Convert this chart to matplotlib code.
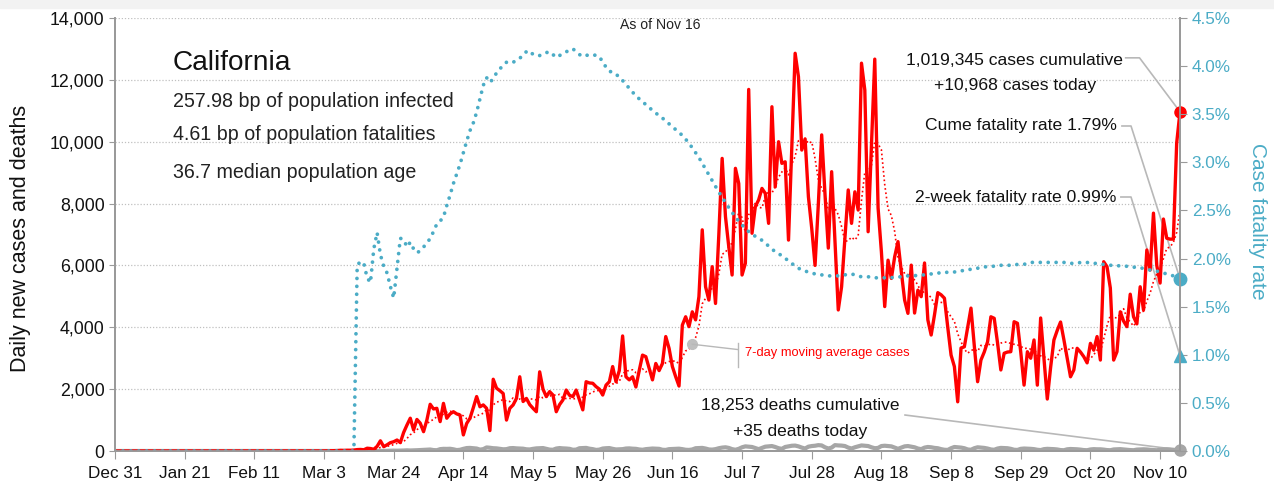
import numpy as np
import pandas as pd
import matplotlib
matplotlib.use('Agg')
import matplotlib.pyplot as plt
import matplotlib.dates as mdates
from matplotlib.ticker import FuncFormatter, MultipleLocator
from matplotlib.patches import Rectangle

plt.rcParams['font.family'] = ['Liberation Sans', 'DejaVu Sans']

#========================= data =========================

start = '2019-12-31'
end = '2020-11-16'

# daily new cases, Dec 31 - Feb 29 are zero
cases_mar = [0, 0, 2, 5, 7, 9, 14, 22, 19, 24, 23, 30, 45, 50, 40, 90, 80, 55, 150, 330,
             140, 200, 270, 300, 355, 270, 600, 840, 1060, 680, 1020]
cases_apr = [900, 625, 1000, 1510, 1360, 1380, 950, 1540, 1060, 1200, 1270, 1200, 1160, 520, 890,
             1060, 1400, 1760, 1430, 1490, 1380, 660, 2320, 2030, 1950, 1860, 1000, 1380, 1490, 1700]
cases_may = [2400, 1600, 1700, 1500, 1380, 1270, 2560, 2000, 1760, 1920, 1810, 1270, 1500, 1650, 1970,
             1800, 1760, 1970, 1650, 1330, 2240, 2200, 2190, 2080, 2000, 1810, 2130, 2240, 2730, 2240, 2600]
cases_jun = [3720, 2400, 2300, 2400, 2070, 2600, 3100, 3050, 2670, 2300, 2830, 2600, 2830, 3700, 3320,
             2730, 2400, 2100, 4070, 4340, 4020, 4500, 4240, 4990, 7150, 5310, 4880, 5960, 4770, 7000]
cases_jul = [9460, 7580, 6600, 5690, 9140, 8650, 5690, 6070, 11690, 7040, 7900, 8120, 8490, 8330, 7360,
             11130, 8540, 10000, 9300, 9350, 6820, 9800, 12860, 12100, 9730, 10090, 8220, 7200, 6000, 8000, 10220]
cases_aug = [8300, 6560, 9030, 6800, 4560, 5310, 6900, 8440, 7360, 8380, 7790, 12540, 11670, 7090, 9900,
             12670, 7860, 6440, 4670, 6170, 5580, 6280, 6770, 5800, 4880, 4450, 6010, 4460, 5200, 4990, 6080]
cases_sep = [4240, 3750, 4400, 5120, 5050, 4940, 4000, 3100, 2730, 1590, 3330, 3370, 4000, 4620, 3400,
             2240, 2940, 3200, 3530, 4340, 4290, 3500, 2620, 3160, 3200, 3210, 4180, 4130, 3200, 2130]
cases_oct = [3210, 3000, 3590, 2130, 4300, 3000, 1680, 2700, 3590, 3900, 4170, 3600, 3000, 2400, 2620,
             3320, 3200, 3050, 2850, 3480, 3260, 3700, 2940, 6120, 5960, 5270, 2940, 3210, 4500, 4200, 4020]
cases_nov = [5070, 4340, 4110, 5310, 4560, 6500, 5850, 7690, 6000, 5430, 7500, 6880, 6850, 6850, 9960, 10968]

# daily new deaths
deaths_mar = [0, 0, 0, 1, 0, 0, 0, 0, 1, 0, 1, 1, 1, 0, 2, 1, 4, 3, 5, 3, 2, 6, 8, 12, 10, 12, 16, 22, 17, 20, 25]
deaths_apr = [30, 35, 40, 48, 30, 25, 60, 70, 68, 72, 55, 30, 40, 70, 95, 100, 90, 80, 45, 60,
              115, 105, 90, 85, 70, 55, 60, 90, 95, 85]
deaths_may = [80, 75, 55, 50, 70, 85, 90, 95, 70, 45, 40, 80, 95, 85, 80, 70, 40, 45, 90, 95,
              100, 75, 60, 35, 45, 80, 90, 95, 70, 50, 55]
deaths_jun = [60, 80, 85, 75, 70, 50, 40, 60, 70, 80, 75, 70, 40, 35, 60, 65, 70, 75, 60, 40,
              35, 50, 90, 95, 100, 80, 50, 45, 60, 90]
deaths_jul = [110, 120, 100, 60, 40, 70, 120, 150, 140, 130, 95, 60, 100, 140, 150, 160, 130, 90, 70, 130,
              150, 170, 175, 150, 110, 80, 140, 160, 170, 190, 180]
deaths_aug = [120, 80, 110, 190, 180, 175, 160, 110, 80, 120, 150, 180, 170, 160, 120, 90, 100, 160, 170, 160,
              150, 110, 70, 110, 150, 160, 140, 120, 80, 60, 110]
deaths_sep = [130, 120, 100, 90, 60, 40, 35, 90, 130, 120, 110, 90, 50, 40, 90, 120, 110, 100, 80, 50,
              40, 80, 100, 95, 90, 70, 40, 35, 70, 80]
deaths_oct = [75, 70, 60, 40, 30, 60, 70, 65, 60, 50, 30, 25, 55, 65, 60, 55, 45, 30, 25, 50,
              60, 55, 55, 45, 30, 25, 50, 55, 60, 50, 40]
deaths_nov = [30, 25, 45, 50, 55, 50, 40, 30, 25, 40, 50, 55, 50, 40, 30, 35]

# cumulative case fatality rate, percent
cfr_mar = [0] * 12 + [1.93, 1.97, 1.95, 1.80, 1.75, 2.10, 2.27, 2.04, 1.92, 1.85, 1.71, 1.59, 1.90,
                      2.21, 2.20, 2.12, 2.17, 2.10, 2.06]
cfr_apr = [2.08, 2.12, 2.16, 2.21, 2.28, 2.36, 2.39, 2.43, 2.55, 2.66, 2.78, 2.88, 2.98, 3.10, 3.22,
           3.33, 3.41, 3.52, 3.66, 3.80, 3.88, 3.83, 3.87, 3.93, 3.97, 4.01, 4.04, 4.05, 4.04, 4.06]
cfr_may = [4.08, 4.12, 4.15, 4.16, 4.12, 4.11, 4.11, 4.13, 4.14, 4.15, 4.12, 4.09, 4.11, 4.13, 4.15,
           4.16, 4.18, 4.15, 4.12, 4.10, 4.11, 4.12, 4.12, 4.11, 4.10, 4.04, 3.99, 3.95, 3.93, 3.92, 3.88]
cfr_jun = [3.85, 3.81, 3.77, 3.73, 3.69, 3.66, 3.63, 3.60, 3.57, 3.54, 3.51, 3.49, 3.46, 3.43, 3.40,
           3.37, 3.34, 3.31, 3.28, 3.24, 3.20, 3.15, 3.10, 3.05, 2.99, 2.93, 2.87, 2.81, 2.75, 2.69]
cfr_jul = [2.64, 2.58, 2.53, 2.48, 2.43, 2.39, 2.35, 2.31, 2.28, 2.26, 2.23, 2.21, 2.19, 2.16, 2.13,
           2.10, 2.07, 2.05, 2.03, 2.00, 1.98, 1.95, 1.92, 1.90, 1.88, 1.87, 1.86, 1.85, 1.84, 1.83, 1.83]
cfr_aug = [1.83, 1.82, 1.82, 1.82, 1.82, 1.82, 1.83, 1.84, 1.84, 1.83, 1.82, 1.81, 1.81, 1.81, 1.81,
           1.80, 1.80, 1.80, 1.80, 1.80, 1.80, 1.81, 1.81, 1.81, 1.82, 1.82, 1.82, 1.82, 1.83, 1.83, 1.83]
cfr_sep = [1.84, 1.84, 1.84, 1.85, 1.85, 1.85, 1.86, 1.86, 1.86, 1.87, 1.87, 1.88, 1.88, 1.89, 1.89,
           1.90, 1.90, 1.91, 1.92, 1.92, 1.92, 1.92, 1.93, 1.93, 1.93, 1.93, 1.93, 1.94, 1.94, 1.94]
cfr_oct = [1.95, 1.96, 1.96, 1.96, 1.96, 1.96, 1.96, 1.96, 1.96, 1.96, 1.96, 1.96, 1.95, 1.95, 1.95,
           1.95, 1.96, 1.96, 1.96, 1.95, 1.95, 1.95, 1.94, 1.94, 1.93, 1.93, 1.93, 1.93, 1.92, 1.92, 1.92]
cfr_nov = [1.92, 1.91, 1.91, 1.90, 1.90, 1.89, 1.88, 1.88, 1.87, 1.86, 1.85, 1.84, 1.83, 1.82, 1.80, 1.79]

two_week_cfr = 0.99
cume_cases = '1,019,345'
today_cases = '+10,968'
cume_deaths = '18,253'
today_deaths = '+35'

info_lines = ['257.98 bp of population infected',
              '4.61 bp of population fatalities',
              '36.7 median population age']

#========================= assemble series =========================

dates = pd.date_range(start, end, freq='D')
lead = [0] * 61  # Dec 31 .. Feb 29
cases = np.array(lead + cases_mar + cases_apr + cases_may + cases_jun + cases_jul
                 + cases_aug + cases_sep + cases_oct + cases_nov, dtype=float)
deaths = np.array(lead + deaths_mar + deaths_apr + deaths_may + deaths_jun + deaths_jul
                  + deaths_aug + deaths_sep + deaths_oct + deaths_nov, dtype=float)
cfr = np.array(lead + cfr_mar + cfr_apr + cfr_may + cfr_jun + cfr_jul
               + cfr_aug + cfr_sep + cfr_oct + cfr_nov, dtype=float) / 100
ma7 = pd.Series(cases).rolling(7, min_periods=1).mean().values

RED = '#ff0000'
TEAL = '#4bacc6'
GREY = '#a6a6a6'
LEAD = '#b8b8b8'
INK = '#111111'

#========================= plot =========================

fig = plt.figure(figsize=(12.74, 4.93), dpi=100)
fig.patches.append(Rectangle((0, 1 - 8 / 493), 1, 8 / 493, transform=fig.transFigure,
                             color='#f2f2f2', zorder=0))
ax = fig.add_axes([115 / 1274, 42 / 493, 1065 / 1274, 433 / 493])
ax2 = ax.twinx()

ax.plot(dates, deaths, color=GREY, lw=3, solid_joinstyle='round', zorder=2)
ax.plot(dates, ma7, color=RED, lw=1.2, ls=(0, (1, 1.6)), zorder=3)
ax.plot(dates, cases, color=RED, lw=2.4, solid_joinstyle='round', zorder=4)
ax.plot(dates[-1], cases[-1], 'o', color=RED, ms=8, zorder=5, clip_on=False)
ax.plot(dates[-1], deaths[-1], 'o', color=GREY, ms=8, zorder=5, clip_on=False)

ax2.plot(dates, cfr, color=TEAL, lw=2.7, ls=(0, (0.01, 2.1)), dash_capstyle='round')
ax2.plot(dates[-1], cfr[-1], 'o', color=TEAL, ms=9, clip_on=False)
ax2.plot(dates[-1], two_week_cfr / 100, '^', color=TEAL, ms=9, clip_on=False)

ax.set_xlim(dates[0], dates[-1])
ax.set_ylim(0, 14000)
ax2.set_ylim(0, 0.045)

ax.set_xticks(dates[::21])
ax.xaxis.set_major_formatter(mdates.DateFormatter('%b %-d'))
ax.yaxis.set_major_locator(MultipleLocator(2000))
ax.yaxis.set_major_formatter(FuncFormatter(lambda v, p: f'{v:,.0f}'))
ax2.yaxis.set_major_locator(MultipleLocator(0.005))
ax2.yaxis.set_major_formatter(FuncFormatter(lambda v, p: f'{v * 100:.1f}%'))

ax.grid(axis='y', color='#c0c0c0', ls=(0, (1, 1.5)), lw=0.9)
ax.set_axisbelow(True)
for a in (ax, ax2):
    a.spines['top'].set_visible(False)
    for s in ('left', 'right', 'bottom'):
        a.spines[s].set_color('#9a9a9a')
        a.spines[s].set_linewidth(1.3)
ax.tick_params(axis='x', length=6, color='#9a9a9a', labelsize=12.3, pad=5, labelcolor=INK)
ax.tick_params(axis='y', length=4, color='#9a9a9a', labelsize=12.8, labelcolor=INK)
ax2.tick_params(axis='y', length=5, color='#9a9a9a', labelsize=12.3, labelcolor=TEAL)

ax.set_ylabel('Daily new cases and deaths', fontsize=15.5, color=INK)
ax.yaxis.set_label_coords(-0.079, 0.49)
ax2.set_ylabel('Case fatality rate', fontsize=15, color=TEAL, rotation=270, va='center')
ax2.yaxis.set_label_coords(1.073, 0.53)

#========================= text and leaders =========================

ax.text(0.0545, 0.896, 'California', transform=ax.transAxes, fontsize=20.2, va='center', color=INK)
for i, line in enumerate(info_lines):
    ax.text(0.0545, [0.808, 0.730, 0.644][i], line, transform=ax.transAxes,
            fontsize=14.1, va='center', color='#222222')

ax.text(0.512, 0.984, 'As of Nov 16', transform=ax.transAxes, fontsize=10.1,
        ha='center', va='center', color='#222222')

ax.text(0.845, 0.903, f'{cume_cases} cases cumulative', transform=ax.transAxes,
        fontsize=12.6, ha='center', va='center', color=INK)
ax.text(0.845, 0.843, f'{today_cases} cases today', transform=ax.transAxes,
        fontsize=12.6, ha='center', va='center', color=INK)
ax.plot([0.949, 0.962, 1.0], [0.908, 0.908, cases[-1] / 14000], transform=ax.transAxes,
        color=LEAD, lw=1.2, clip_on=False, zorder=1)

ax.text(0.9408, 0.7506, f'Cume fatality rate {cfr[-1] * 100:.2f}%', transform=ax.transAxes,
        fontsize=12.6, ha='right', va='center', color=INK)
ax.plot([0.9455, 0.954, 1.0], [0.7506, 0.7506, cfr[-1] / 0.045], transform=ax.transAxes,
        color=LEAD, lw=1.2, clip_on=False, zorder=1)

ax.text(0.940, 0.5866, f'2-week fatality rate {two_week_cfr:.2f}%', transform=ax.transAxes,
        fontsize=12.6, ha='right', va='center', color=INK)
ax.plot([0.9445, 0.954, 1.0], [0.5866, 0.5866, two_week_cfr / 100 / 0.045], transform=ax.transAxes,
        color=LEAD, lw=1.2, clip_on=False, zorder=1)

ax.text(0.643, 0.106, f'{cume_deaths} deaths cumulative', transform=ax.transAxes,
        fontsize=12.5, ha='center', va='center', color=INK)
ax.text(0.643, 0.046, f'{today_deaths} deaths today', transform=ax.transAxes,
        fontsize=12.5, ha='center', va='center', color=INK)
ax.plot([0.7418, 1.0], [0.0831, deaths[-1] / 14000], transform=ax.transAxes,
        color=LEAD, lw=1.2, clip_on=False, zorder=1)

# 7-day average callout
i_lbl = 174
ax.plot(dates[i_lbl], ma7[i_lbl], 'o', color='#bfbfbf', ms=7, zorder=6)
x_bar = mdates.date2num(dates[0]) + (738 - 115) / 3.318
ax.plot([mdates.date2num(dates[i_lbl]), x_bar], [ma7[i_lbl], 3280], color=LEAD, lw=1, zorder=6)
ax.plot([x_bar, x_bar], [2700, 3500], color=LEAD, lw=1, zorder=6)
ax.text(0.5915, 0.2263, '7-day moving average cases', transform=ax.transAxes,
        fontsize=9.3, color=RED, va='center')

fig.savefig('out.png', dpi=100)
